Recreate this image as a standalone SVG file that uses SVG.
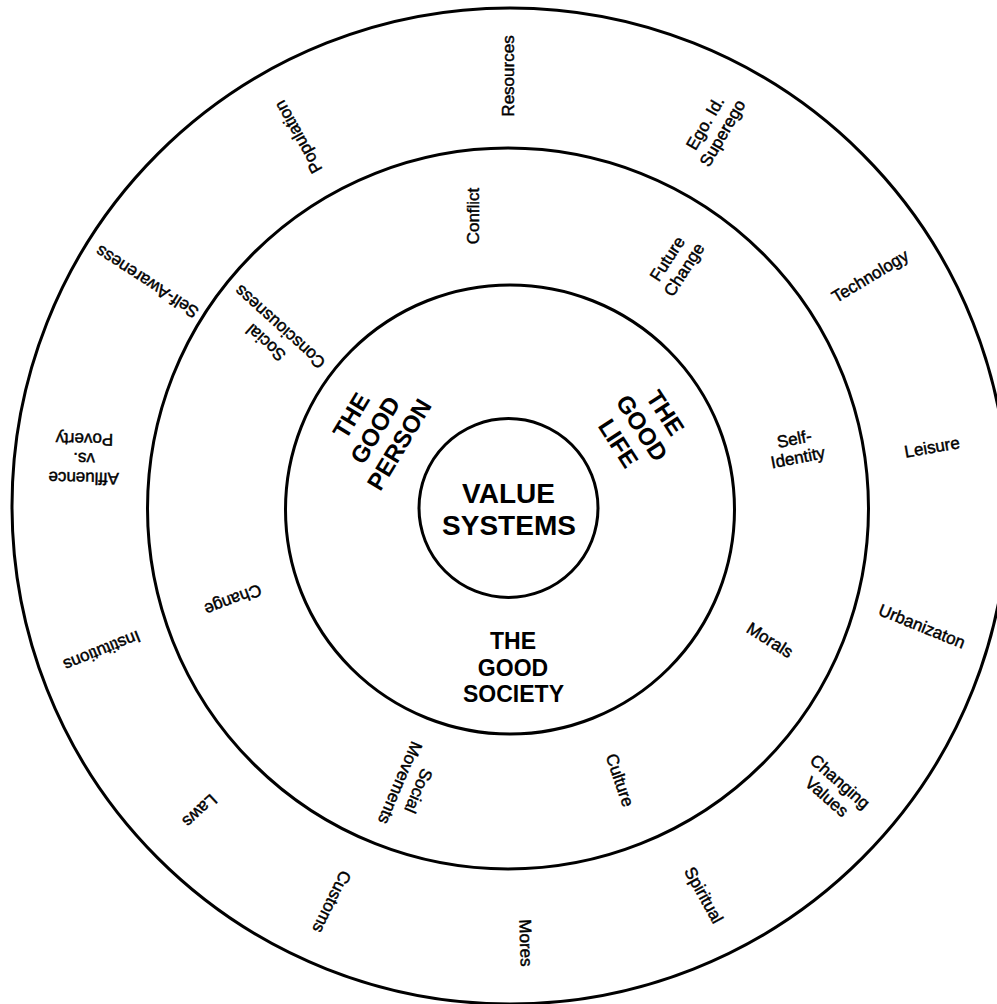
<svg xmlns="http://www.w3.org/2000/svg" width="997" height="1004" viewBox="0 0 997 1004">
<style>
.ring{fill:none;stroke:#000;stroke-width:3}
.lbl{font-family:"Liberation Sans",Arial,Helvetica,sans-serif;font-size:17px;text-anchor:middle;fill:#000;stroke:#000;stroke-width:0.45}
.big{font-family:"Liberation Sans",Arial,Helvetica,sans-serif;font-weight:bold;font-size:24px;text-anchor:middle;fill:#000}
.core{font-family:"Liberation Sans",Arial,Helvetica,sans-serif;font-weight:bold;font-size:28px;text-anchor:middle;fill:#000}
</style>
<rect width="997" height="1004" fill="#fff"/>
<g id="rings">
<circle id="ring-outer" class="ring" cx="510" cy="506" r="498"/>
<circle id="ring-2" class="ring" cx="508" cy="508.5" r="360.5"/>
<circle id="ring-3" class="ring" cx="510" cy="509.5" r="224.5"/>
<circle id="ring-core" class="ring" cx="508.5" cy="508" r="89.5"/>
</g>
<g id="connectors"></g>
<g id="n-value-systems"><text class="core" x="508.5" y="503">VALUE</text><text class="core" x="509" y="535">SYSTEMS</text></g>
<g id="n-good-society"><text class="big" style="font-size:23px" x="513" y="649">THE</text><text class="big" style="font-size:23px" x="513" y="675.7">GOOD</text><text class="big" style="font-size:23px" x="513.5" y="702">SOCIETY</text></g>
<g id="n-good-person" transform="translate(375,430) rotate(-59)"><text class="big" y="-19.5">THE</text><text class="big" y="8.5">GOOD</text><text class="big" y="36.5">PERSON</text></g>
<g id="n-good-life" transform="translate(642,428) rotate(57)"><text class="big" y="-19.5">THE</text><text class="big" y="8.5">GOOD</text><text class="big" y="36.5">LIFE</text></g>
<g id="n-resources" transform="translate(508,76) rotate(-90)"><text class="lbl" y="6">Resources</text></g>
<g id="n-ego" transform="translate(713.6,128) rotate(-60)"><text class="lbl" y="-4">Ego. Id.</text><text class="lbl" y="16">Superego</text></g>
<g id="n-technology" transform="translate(870,276) rotate(-31)"><text class="lbl" y="6">Technology</text></g>
<g id="n-leisure" transform="translate(932,447) rotate(-10)"><text class="lbl" y="6">Leisure</text></g>
<g id="n-urbanizaton" transform="translate(922,626) rotate(22)"><text class="lbl" y="6">Urbanizaton</text></g>
<g id="n-changing-values" transform="translate(833.5,789) rotate(41)"><text class="lbl" y="-4">Changing</text><text class="lbl" y="16">Values</text></g>
<g id="n-spiritual" transform="translate(704,895) rotate(61)"><text class="lbl" y="6">Spiritual</text></g>
<g id="n-mores" transform="translate(526,943) rotate(88)"><text class="lbl" y="6">Mores</text></g>
<g id="n-customs" transform="translate(332,902) rotate(116)"><text class="lbl" y="6">Customs</text></g>
<g id="n-laws" transform="translate(200,811) rotate(137)"><text class="lbl" y="6">Laws</text></g>
<g id="n-institutions" transform="translate(102,651) rotate(158)"><text class="lbl" y="6">Institutions</text></g>
<g id="n-affluence" transform="translate(84,459) rotate(181)"><text class="lbl" y="-13.5">Affluence</text><text class="lbl" y="6">vs.</text><text class="lbl" y="25.5">Poverty</text></g>
<g id="n-self-awareness" transform="translate(147,282) rotate(-147)"><text class="lbl" y="6">Self-Awareness</text></g>
<g id="n-population" transform="translate(298,137) rotate(-119)"><text class="lbl" y="6">Population</text></g>
<g id="n-conflict" transform="translate(473,216) rotate(-90)"><text class="lbl" y="6">Conflict</text></g>
<g id="n-future-change" transform="translate(675.5,264) rotate(-57)"><text class="lbl" y="-4">Future</text><text class="lbl" y="16">Change</text></g>
<g id="n-self-identity" transform="translate(796,448) rotate(-11)"><text class="lbl" y="-3.5">Self-</text><text class="lbl" y="15.5">Identity</text></g>
<g id="n-morals" transform="translate(770,640) rotate(32)"><text class="lbl" y="6">Morals</text></g>
<g id="n-culture" transform="translate(620,780) rotate(71)"><text class="lbl" y="6">Culture</text></g>
<g id="n-social-movements" transform="translate(409.5,787) rotate(113)"><text class="lbl" y="-4">Social</text><text class="lbl" y="16">Movements</text></g>
<g id="n-change" transform="translate(233,600) rotate(159)"><text class="lbl" y="6">Change</text></g>
<g id="n-social-consciousness" transform="translate(272.7,335) rotate(-138)"><text class="lbl" y="-4.5">Social</text><text class="lbl" y="16.5">Consciousness</text></g>
</svg>
